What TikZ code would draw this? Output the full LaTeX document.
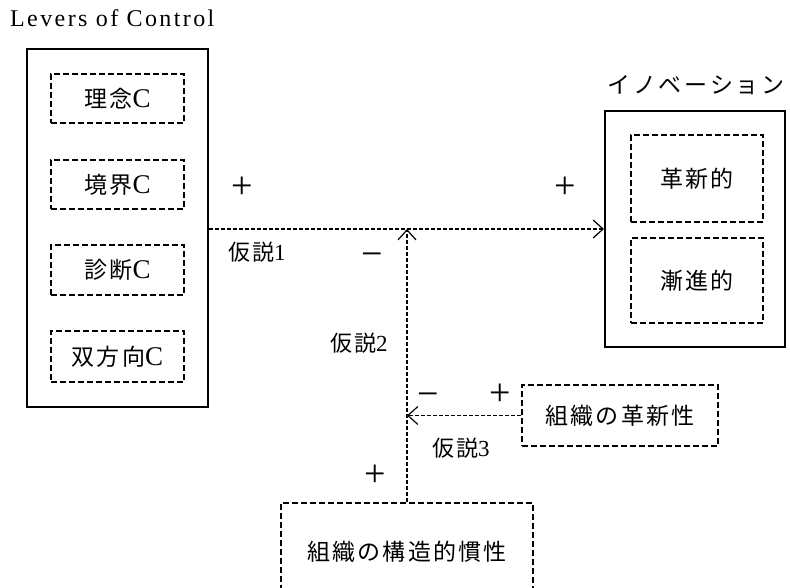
\documentclass[tikz,border=0pt]{standalone}
\usepackage{fontspec}
\setmainfont{Liberation Serif}
\newfontfamily\jp[LetterSpace=9]{Noto Sans CJK JP}
\newfontfamily\jpwide[LetterSpace=12]{Noto Sans CJK JP}
\newfontfamily\widefont[LetterSpace=10]{Liberation Serif}
\newcommand\latbig[1]{{\fontsize{27}{28}\selectfont #1}}
\newcommand\latmid[1]{{\fontsize{23}{24}\selectfont #1}}
\usetikzlibrary{arrows.meta}
\tikzset{
  solidbox/.style={draw, line width=2pt, inner sep=0pt},
  dbox/.style={draw, line width=1.8pt, dash pattern=on 6pt off 3pt, inner sep=0pt,
    font=\fontsize{23}{26}\selectfont},
  conn/.style={line width=1.2pt, dash pattern=on 4pt off 2pt,
    -{Straight Barb[length=10pt,width=18pt,line width=1.2pt]}},
  sign/.style={inner sep=0pt, font=\fontsize{38}{40}\selectfont},
  hyp/.style={inner sep=0pt, font=\fontsize{22}{24}\selectfont},
  ttl/.style={inner sep=0pt, font=\fontsize{23}{26}\selectfont},
}
\begin{document}
\begin{tikzpicture}[x=1pt,y=-1pt]
\useasboundingbox (0,0) rectangle (790,588);
\clip (0,0) rectangle (790,588);
% titles
\node[inner sep=0pt, anchor=base west, font=\fontsize{24}{26}\selectfont\widefont] (levt) at (10,27) {Levers of Control};
\node[ttl] (innot) at (696,85) {\jpwide イノベーション};
% left box
\node[solidbox, minimum width=181pt, minimum height=358pt] (lev) at (117.5,228) {};
\node[dbox, minimum width=133pt, minimum height=49pt] (c1) at (117.5,98.5) {{\jp 理念}\latbig{C}};
\node[dbox, minimum width=133pt, minimum height=49pt] (c2) at (117.5,184.5) {{\jp 境界}\latbig{C}};
\node[dbox, minimum width=133pt, minimum height=50pt] (c3) at (117.5,270) {{\jp 診断}\latbig{C}};
\node[dbox, minimum width=133pt, minimum height=51pt] (c4) at (117.5,356.5) {{\jp 双方向}\latbig{C}};
% right box
\node[solidbox, minimum width=180pt, minimum height=236pt] (inno) at (695,229) {};
\node[dbox, minimum width=132pt, minimum height=87pt] (i1) at (697,178.5) {\jp 革新的};
\node[dbox, minimum width=132pt, minimum height=85pt] (i2) at (697,280.5) {\jp 漸進的};
% moderators
\node[dbox, minimum width=196pt, minimum height=61pt] (rev) at (620,415.5) {\jp 組織の革新性};
\node[dbox, minimum width=252pt, minimum height=98pt] (inert) at (407,552) {\jp 組織の構造的慣性};
% connectors
\coordinate (j1) at (inert.north |- inno.west);
\coordinate (j2) at (inert.north |- rev.west);
\draw[conn] (lev.east |- inno.west) -- (inno.west);
\draw[conn] (inert.north) -- (j1);
\draw[conn] (rev.west) -- (j2);
% signs and labels
\node[sign] (p1) at (242,188) {+};
\node[sign] (p2) at (565,188) {+};
\node[sign] (m1) at (372,260) {−};
\node[hyp] (h1) at (257,252) {{\jp 仮説}\latmid{1}};
\node[hyp] (h2) at (359,343) {{\jp 仮説}\latmid{2}};
\node[sign] (p3) at (375,476) {+};
\node[sign] (m2) at (428,400) {−};
\node[sign] (p4) at (500,395) {+};
\node[hyp] (h3) at (461,448) {{\jp 仮説}\latmid{3}};
\end{tikzpicture}
\end{document}
